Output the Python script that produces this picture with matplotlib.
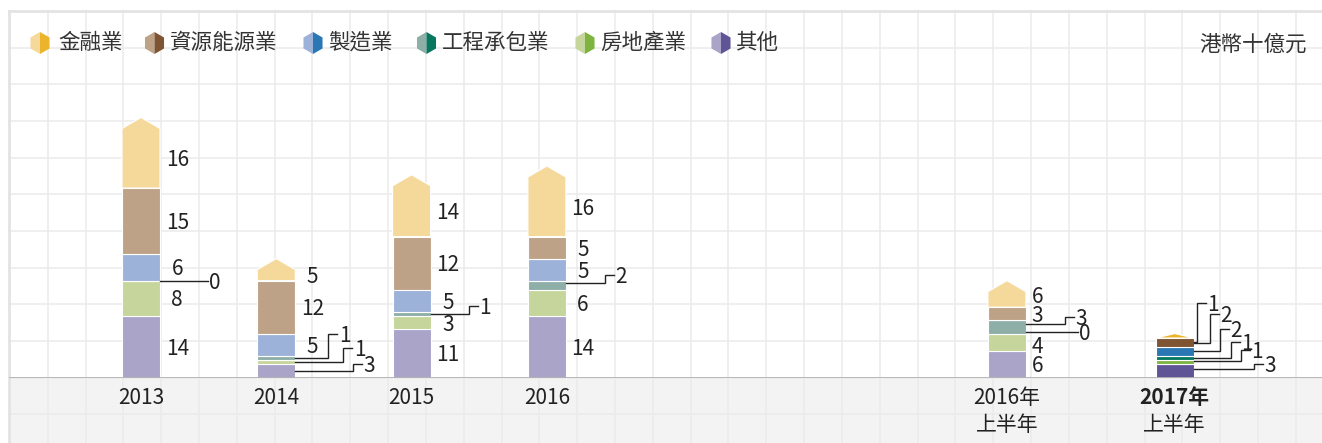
import matplotlib
matplotlib.use('Agg')
import matplotlib.pyplot as plt
from matplotlib.patches import Polygon, Rectangle

plt.rcParams['font.family'] = ['Noto Sans CJK TC', 'DejaVu Sans']

# ---- data (港幣十億元) ----
periods = ['2013', '2014', '2015', '2016', '2016年\n上半年', '2017年\n上半年']
others = [14, 3, 11, 14, 6, 3]          # 其他
property_ = [8, 1, 3, 6, 4, 1]          # 房地產業
engineering = [0, 1, 1, 2, 3, 1]       # 工程承包業
manufacturing = [6, 5, 5, 5, 0, 2]     # 製造業
resources = [15, 12, 12, 5, 3, 2]      # 資源能源業
finance = [16, 5, 14, 16, 6, 1]        # 金融業

# stack order bottom -> top
series = [
    ('其他', others, '#a9a4c8', '#5f5495'),
    ('房地產業', property_, '#c5d59b', '#7db440'),
    ('工程承包業', engineering, '#8eaea8', '#07775f'),
    ('製造業', manufacturing, '#9db2d8', '#2a77b4'),
    ('資源能源業', resources, '#bea287', '#7e5433'),
    ('金融業', finance, '#f4d99b', '#ebb42b'),
]
legend_order = ['金融業', '資源能源業', '製造業', '工程承包業', '房地產業', '其他']

# ---- layout (pixels) ----
W, H = 1322, 443
BASE, TOP, LEFT = 377.7, 11, 9
PX_X, PX_Y, X0 = 135.3, 4.41, 141
positions = [0, 1, 2, 3, 6.4, 7.64]
BAR_W = 38 / PX_X
ROOF = 11 / PX_Y
FS = 15
TXT_DY = -2  # px, visual centring of digits

# leader lines: (bar, series) -> (elbow px, rise px, anchor shift px)
leaders = {
    (0, '工程承包業'): (48, 0, 0),
    (1, '工程承包業'): (33, 24, 0),
    (1, '房地產業'): (48, 14, 0),
    (1, '其他'): (58, 7, 0),
    (2, '工程承包業'): (38, 8, 0),
    (3, '工程承包業'): (39, 8, 2.5),
    (4, '工程承包業'): (39, 7, 3.4),
    (4, '製造業'): (52, 0, -12),
    (5, '金融業'): (3, 39, -3.8),
    (5, '資源能源業'): (16, 29, -1),
    (5, '製造業'): (26, 22, 0),
    (5, '工程承包業'): (37, 16, 0),
    (5, '房地產業'): (47, 11, 1.6),
    (5, '其他'): (60, 5, 2),
}
# small nudges of plain labels (px, up positive)
nudges = {(4, '金融業'): 4, (4, '房地產業'): -3}

fig = plt.figure(figsize=(W / 100, H / 100), dpi=100)

# background grid in pixel coordinates
bg = fig.add_axes([0, 0, 1, 1])
bg.set_xlim(0, W)
bg.set_ylim(H, 0)
bg.axis('off')
bg.add_patch(Rectangle((LEFT, BASE), W - LEFT, H - BASE, color='#f3f3f3', lw=0, zorder=0))
x = 9.9 + 37.82
while x < W:
    bg.plot([x, x], [TOP, H], color='#ebebeb', lw=1.1, zorder=1)
    x += 37.82
for k in range(-2, 10):
    y = BASE - 36.67 * k
    if TOP < y < H:
        bg.plot([LEFT, W], [y, y], color='#ebebeb', lw=1.1, zorder=1)
bg.plot([LEFT, W], [TOP, TOP], color='#e3e3e3', lw=2, zorder=2)
bg.plot([LEFT, LEFT], [TOP, H], color='#e3e3e3', lw=2, zorder=2)

# legend
for cx, tx, name in zip([40, 154.5, 313, 426.5, 585, 721],
                        [58, 170, 328, 442, 600, 735], legend_order):
    light, dark = [(s[2], s[3]) for s in series if s[0] == name][0]
    cy, r = 43, 11
    hw = 0.866 * r
    bg.add_patch(Polygon([(cx, cy - r), (cx - hw, cy - r / 2), (cx - hw, cy + r / 2), (cx, cy + r)],
                         closed=True, color=light, lw=0, zorder=3))
    bg.add_patch(Polygon([(cx, cy - r), (cx + hw, cy - r / 2), (cx + hw, cy + r / 2), (cx, cy + r)],
                         closed=True, color=dark, lw=0, zorder=3))
    bg.text(tx, cy, name, fontsize=15.5, color='#333333', ha='left', va='center')
bg.text(1307, 45, '港幣十億元', fontsize=15.5, color='#333333', ha='right', va='center',
        style='italic')

# data axes
ax = fig.add_axes([LEFT / W, (H - BASE) / H, (W - LEFT) / W, (BASE - TOP) / H])
ax.set_xlim((LEFT - X0) / PX_X, (W - X0) / PX_X)
ax.set_ylim(0, (BASE - TOP) / PX_Y)
ax.patch.set_alpha(0)
for sp in ax.spines.values():
    sp.set_visible(False)
ax.set_yticks([])

n = len(periods)
bottoms = [0] * n
seg = {}
for name, vals, light, dark in series:
    colors = [dark if i == n - 1 else light for i in range(n)]
    if name == '金融業':
        for i, v in enumerate(vals):
            xc, b = positions[i], bottoms[i]
            r = min(ROOF, v)
            pts = [(xc - BAR_W / 2, b), (xc + BAR_W / 2, b), (xc + BAR_W / 2, b + v - r),
                   (xc, b + v), (xc - BAR_W / 2, b + v - r)]
            ax.add_patch(Polygon(pts, closed=True, facecolor=colors[i], edgecolor='white',
                                 lw=0.8, zorder=3))
            seg[(i, name)] = (b, v, b + (v - r) / 2)
    else:
        ax.bar(positions, vals, BAR_W, bottom=bottoms, color=colors, edgecolor='white',
               linewidth=0.8, zorder=3)
        for i, v in enumerate(vals):
            seg[(i, name)] = (bottoms[i], v, bottoms[i] + v / 2)
    bottoms = [b + v for b, v in zip(bottoms, vals)]

ax.axhline(0, color='#b3b3b3', lw=2, zorder=4)

# value labels
for i in range(n):
    xr = positions[i] + BAR_W / 2
    plain = [(name, seg[(i, name)]) for name, *_ in series if (i, name) not in leaders]
    if plain:
        maxd = max(len(str(s[1])) for _, s in plain)
        xc = xr + (6 + 5.6 * maxd) / PX_X
        for name, (b, v, ym) in plain:
            yl = ym + (TXT_DY + nudges.get((i, name), 0)) / PX_Y
            ax.text(xc, yl, str(v), fontsize=FS, color='#222222', ha='center', va='center',
                    zorder=5)
    for name, *_ in series:
        if (i, name) not in leaders:
            continue
        elbow, rise, shift = leaders[(i, name)]
        b, v, ym = seg[(i, name)]
        ya = ym + shift / PX_Y
        if rise == 0:
            xs = [xr, xr + elbow / PX_X]
            ys = [ya, ya]
        else:
            xe = xr + elbow / PX_X
            yt = ya + rise / PX_Y
            xs = [xr, xe, xe, xe + 9 / PX_X]
            ys = [ya, ya, yt, yt]
        ax.plot(xs, ys, color='#222222', lw=1.0, zorder=5, solid_joinstyle='miter')
        ax.text(xs[-1] + 1.5 / PX_X, ys[-1] + TXT_DY / PX_Y, str(v), fontsize=FS,
                color='#222222', ha='left', va='center', zorder=5)

# x labels: first line as tick label, second line below it
first_lines = [p.split('\n')[0] for p in periods]
ax.set_xticks(positions)
ax.set_xticklabels(first_lines, fontsize=FS, color='#222222')
ax.tick_params(axis='x', length=0, pad=7)
ax.get_xticklabels()[-1].set_fontweight('bold')
for p, pos in zip(periods, positions):
    if '\n' in p:
        ax.annotate(p.split('\n')[1], xy=(pos, 0), xycoords=('data', 'axes fraction'),
                    xytext=(0, -47.5 * 72 / 100), textcoords='offset points',
                    ha='center', va='center', fontsize=FS, color='#222222')

fig.savefig('out.png', dpi=100)
